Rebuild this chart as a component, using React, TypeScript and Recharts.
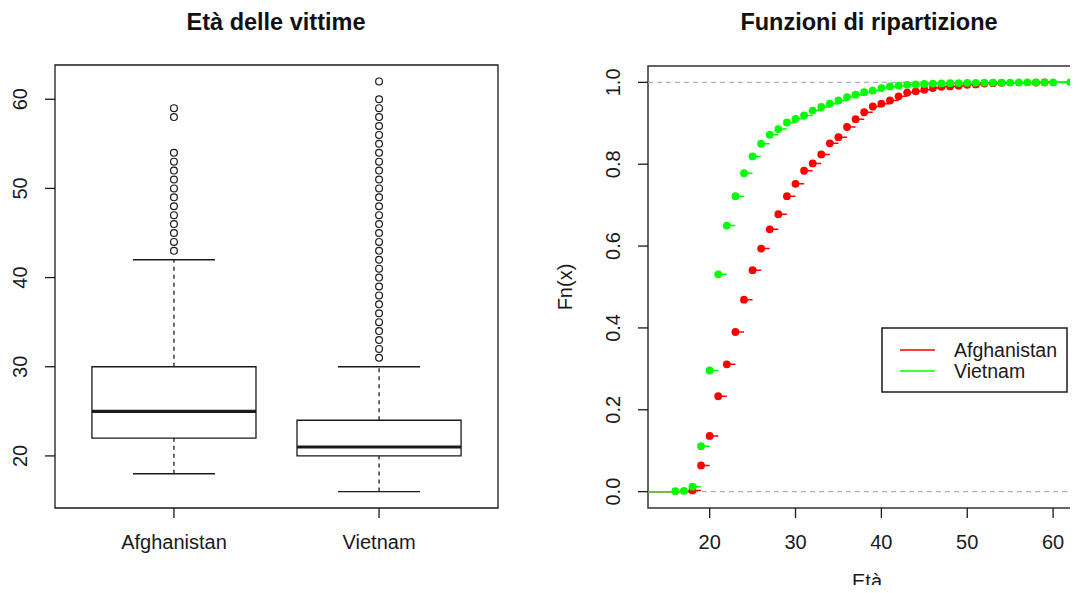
import {
  ComposedChart,
  Scatter,
  Line,
  XAxis,
  YAxis,
  ReferenceArea,
  ReferenceLine,
} from 'recharts'

// boxplot stats
const BOX_NAMES = ['Afghanistan', 'Vietnam']
const BOX_LOW = [18, 16]
const BOX_Q1 = [22, 20]
const BOX_MEDIAN = [25, 21]
const BOX_Q3 = [30, 24]
const BOX_HIGH = [42, 30]
const AFG_OUTLIERS = [43, 44, 45, 46, 47, 48, 49, 50, 51, 52, 53, 54, 58, 59]
const VIE_OUTLIERS = [
  31, 32, 33, 34, 35, 36, 37, 38, 39, 40, 41, 42, 43, 44, 45, 46, 47, 48, 49, 50, 51, 52, 53, 54, 55,
  56, 57, 58, 59, 60, 62,
]
const AGE_TICKS = [20, 30, 40, 50, 60]

// empirical distribution functions
const AFG_AGES = [
  18, 19, 20, 21, 22, 23, 24, 25, 26, 27, 28, 29, 30, 31, 32, 33, 34, 35, 36, 37, 38, 39, 40, 41, 42,
  43, 44, 45, 46, 47, 48, 49, 50, 51, 52, 53, 54, 58, 59,
]
const AFG_FN = [
  0.003, 0.064, 0.136, 0.233, 0.311, 0.39, 0.469, 0.541, 0.594, 0.641, 0.678, 0.722, 0.752, 0.784,
  0.802, 0.824, 0.851, 0.866, 0.891, 0.91, 0.927, 0.941, 0.948, 0.956, 0.966, 0.975, 0.978, 0.982,
  0.986, 0.989, 0.99, 0.992, 0.994, 0.995, 0.997, 0.998, 0.999, 0.9995, 1,
]
const VIE_AGES = [
  16, 17, 18, 19, 20, 21, 22, 23, 24, 25, 26, 27, 28, 29, 30, 31, 32, 33, 34, 35, 36, 37, 38, 39, 40,
  41, 42, 43, 44, 45, 46, 47, 48, 49, 50, 51, 52, 53, 54, 55, 56, 57, 58, 59, 60, 62,
]
const VIE_FN = [
  0.001, 0.002, 0.012, 0.111, 0.296, 0.531, 0.65, 0.722, 0.778, 0.819, 0.85, 0.872, 0.886, 0.902,
  0.911, 0.919, 0.931, 0.94, 0.948, 0.956, 0.964, 0.97, 0.976, 0.98, 0.986, 0.99, 0.992, 0.994,
  0.995, 0.996, 0.997, 0.9975, 0.998, 0.9984, 0.9987, 0.999, 0.9992, 0.9994, 0.9995, 0.9996, 0.9997,
  0.9998, 0.9998, 0.9999, 0.9999, 1,
]
const FN_TICKS = [0, 0.2, 0.4, 0.6, 0.8, 1]

const BOX_X = [0.42, 2.58]
const BOX_Y = [14.16, 63.84]
const ECDF_X = [12.82, 64.18]
const ECDF_Y = [-0.04, 1.04]

const FONT = '"Liberation Sans", Arial, sans-serif'
const INK = '#1a1a1a'

// horizontal steps of a step function, broken by nulls (no verticals, like plot.ecdf)
function stepSegments(ages: number[], fn: number[]) {
  const out: { x: number; y: number | null }[] = [
    { x: ECDF_X[0] - 2, y: 0 },
    { x: ages[0], y: 0 },
    { x: ages[0], y: null },
  ]
  ages.forEach((a, i) => {
    const next = i < ages.length - 1 ? ages[i + 1] : ECDF_X[1] + 2
    out.push({ x: a, y: fn[i] }, { x: next, y: fn[i] }, { x: next, y: null })
  })
  return out
}

const afgSteps = stepSegments(AFG_AGES, AFG_FN)
const vieSteps = stepSegments(VIE_AGES, VIE_FN)
const afgPoints = AFG_AGES.map((a, i) => ({ x: a, y: AFG_FN[i] }))
const viePoints = VIE_AGES.map((a, i) => ({ x: a, y: VIE_FN[i] }))
const outliers = [
  ...AFG_OUTLIERS.map((v) => ({ x: 1, y: v })),
  ...VIE_OUTLIERS.map((v) => ({ x: 2, y: v })),
]

function RotTick(props: any) {
  const { x, y, payload, fmt } = props
  const bx = x - 18
  return (
    <text
      x={bx}
      y={y}
      transform={`rotate(-90 ${bx} ${y})`}
      textAnchor="middle"
      fontSize={20}
      fontFamily={FONT}
      fill={INK}
    >
      {fmt ? fmt(payload.value) : payload.value}
    </text>
  )
}

export default function App() {
  const boxMarks: any[] = []
  BOX_NAMES.forEach((name, i) => {
    const p = i + 1
    boxMarks.push(
      <ReferenceLine
        key={`wu${i}`}
        segment={[
          { x: p, y: BOX_Q3[i] },
          { x: p, y: BOX_HIGH[i] },
        ]}
        stroke={INK}
        strokeWidth={1.3}
        strokeDasharray="4 4"
        ifOverflow="visible"
      />,
      <ReferenceLine
        key={`wl${i}`}
        segment={[
          { x: p, y: BOX_LOW[i] },
          { x: p, y: BOX_Q1[i] },
        ]}
        stroke={INK}
        strokeWidth={1.3}
        strokeDasharray="4 4"
        ifOverflow="visible"
      />,
      <ReferenceLine
        key={`cu${i}`}
        segment={[
          { x: p - 0.2, y: BOX_HIGH[i] },
          { x: p + 0.2, y: BOX_HIGH[i] },
        ]}
        stroke={INK}
        strokeWidth={1.3}
        ifOverflow="visible"
      />,
      <ReferenceLine
        key={`cl${i}`}
        segment={[
          { x: p - 0.2, y: BOX_LOW[i] },
          { x: p + 0.2, y: BOX_LOW[i] },
        ]}
        stroke={INK}
        strokeWidth={1.3}
        ifOverflow="visible"
      />,
      <ReferenceArea
        key={`b${i}`}
        x1={p - 0.4}
        x2={p + 0.4}
        y1={BOX_Q1[i]}
        y2={BOX_Q3[i]}
        fill="#fff"
        fillOpacity={1}
        stroke={INK}
        strokeWidth={1.3}
        ifOverflow="visible"
      />,
      <ReferenceLine
        key={`m${i}`}
        segment={[
          { x: p - 0.4, y: BOX_MEDIAN[i] },
          { x: p + 0.4, y: BOX_MEDIAN[i] },
        ]}
        stroke={INK}
        strokeWidth={3.2}
        ifOverflow="visible"
      />,
    )
  })

  return (
    <div
      style={{
        position: 'relative',
        width: 1078,
        height: 593,
        margin: -8,
        overflow: 'hidden',
        background: '#fff',
        fontFamily: FONT,
      }}
    >
      {/* Boxplot */}
      <div style={{ position: 'absolute', left: 0, top: 0 }}>
        <ComposedChart width={540} height={593} margin={{ top: 65, right: 42, bottom: 45, left: 0 }}>
          <XAxis
            type="number"
            dataKey="x"
            domain={BOX_X}
            ticks={[1, 2]}
            tickFormatter={(v) => BOX_NAMES[v - 1]}
            allowDataOverflow
            axisLine={false}
            tickSize={10}
            tickMargin={17}
            height={40}
            tickLine={{ stroke: INK, strokeWidth: 1.3 }}
            tick={{ fill: INK, fontSize: 20, fontFamily: FONT }}
          />
          <YAxis
            type="number"
            dataKey="y"
            domain={BOX_Y}
            ticks={AGE_TICKS}
            allowDataOverflow
            width={55}
            axisLine={false}
            tickSize={10}
            tickMargin={0}
            tickLine={{ stroke: INK, strokeWidth: 1.3 }}
            tick={(p: any) => <RotTick {...p} />}
          />
          {boxMarks}
          <Scatter
            data={outliers}
            isAnimationActive={false}
            shape={(p: any) => (
              <circle cx={p.cx} cy={p.cy} r={3.4} fill="none" stroke={INK} strokeWidth={1.2} />
            )}
          />
          <ReferenceArea
            x1={BOX_X[0]}
            x2={BOX_X[1]}
            y1={BOX_Y[0]}
            y2={BOX_Y[1]}
            fill="none"
            stroke={INK}
            strokeWidth={1.3}
            ifOverflow="visible"
          />
        </ComposedChart>
      </div>

      {/* ECDF */}
      <div style={{ position: 'absolute', left: 540, top: 0 }}>
        <ComposedChart width={560} height={593} margin={{ top: 66, right: 11, bottom: 45, left: 0 }}>
          <XAxis
            type="number"
            dataKey="x"
            domain={ECDF_X}
            ticks={AGE_TICKS}
            allowDataOverflow
            axisLine={false}
            tickSize={10}
            tickMargin={17}
            height={40}
            tickLine={{ stroke: INK, strokeWidth: 1.3 }}
            tick={{ fill: INK, fontSize: 20, fontFamily: FONT }}
          />
          <YAxis
            type="number"
            dataKey="y"
            domain={ECDF_Y}
            ticks={FN_TICKS}
            allowDataOverflow
            width={108}
            axisLine={false}
            tickSize={10}
            tickMargin={0}
            tickLine={{ stroke: INK, strokeWidth: 1.3 }}
            tick={(p: any) => <RotTick {...p} fmt={(v: number) => v.toFixed(1)} />}
          />
          <ReferenceLine y={0} stroke="#b3b3b3" strokeWidth={1.3} strokeDasharray="5 4" />
          <ReferenceLine y={1} stroke="#b3b3b3" strokeWidth={1.3} strokeDasharray="5 4" />
          <Line
            data={afgSteps}
            dataKey="y"
            stroke="#ff0000"
            strokeWidth={1.5}
            dot={false}
            activeDot={false}
            isAnimationActive={false}
          />
          <Scatter
            data={afgPoints}
            fill="#ff0000"
            isAnimationActive={false}
            shape={(p: any) => <circle cx={p.cx} cy={p.cy} r={3.9} fill="#ff0000" />}
          />
          <Line
            data={vieSteps}
            dataKey="y"
            stroke="#00ff00"
            strokeWidth={1.5}
            dot={false}
            activeDot={false}
            isAnimationActive={false}
          />
          <Scatter
            data={viePoints}
            fill="#00ff00"
            isAnimationActive={false}
            shape={(p: any) => <circle cx={p.cx} cy={p.cy} r={3.9} fill="#00ff00" />}
          />
          <ReferenceArea
            x1={ECDF_X[0]}
            x2={ECDF_X[1]}
            y1={ECDF_Y[0]}
            y2={ECDF_Y[1]}
            fill="none"
            stroke="#333"
            strokeWidth={1.5}
            ifOverflow="visible"
          />
        </ComposedChart>
      </div>

      {/* titles, axis labels and legend */}
      <svg
        width={1078}
        height={593}
        style={{ position: 'absolute', left: 0, top: 0, pointerEvents: 'none' }}
      >
        <text x={276} y={30} textAnchor="middle" fontSize={23.5} fontWeight="bold" fontFamily={FONT} fill="#111">
          Età delle vittime
        </text>
        <text x={869} y={30} textAnchor="middle" fontSize={23.5} fontWeight="bold" fontFamily={FONT} fill="#111">
          Funzioni di ripartizione
        </text>
        <text
          x={572}
          y={287}
          transform="rotate(-90 572 287)"
          textAnchor="middle"
          fontSize={20}
          fontFamily={FONT}
          fill={INK}
        >
          Fn(x)
        </text>
        <text x={867} y={588} textAnchor="middle" fontSize={20} fontFamily={FONT} fill={INK}>
          Età
        </text>
        <g transform="translate(881 327)">
          <rect x={1} y={1} width={185} height={64} fill="#fff" stroke={INK} strokeWidth={1.5} />
          <line x1={19} x2={54} y1={23} y2={23} stroke="#ff0000" strokeWidth={1.5} />
          <line x1={19} x2={54} y1={44} y2={44} stroke="#00ff00" strokeWidth={1.5} />
          <text x={73} y={30} fontSize={19.5} fontFamily={FONT} fill={INK}>
            {BOX_NAMES[0]}
          </text>
          <text x={73} y={51} fontSize={19.5} fontFamily={FONT} fill={INK}>
            {BOX_NAMES[1]}
          </text>
        </g>
      </svg>
    </div>
  )
}
